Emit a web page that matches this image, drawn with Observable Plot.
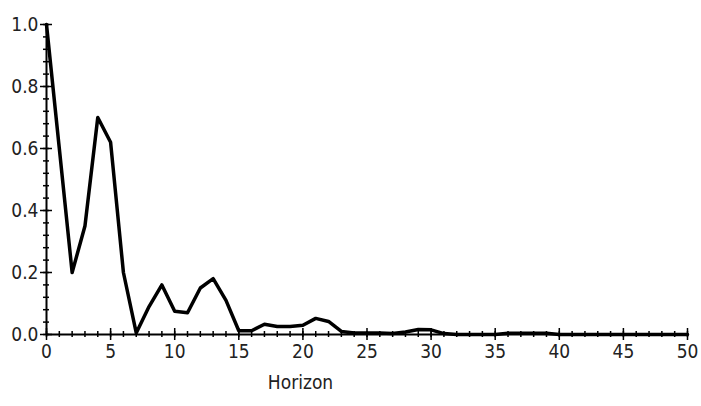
<!DOCTYPE html>
<html>
<head>
<meta charset="utf-8">
<script src="https://cdn.jsdelivr.net/npm/d3@7"></script>
<script src="https://cdn.jsdelivr.net/npm/@observablehq/plot@0.6"></script>
<style>
  html, body { margin: 0; padding: 0; background: #fff; }
  svg { display: block; }
</style>
</head>
<body>
<div id="chart"></div>
<script>
const horizon = d3.range(0, 51);
const values = [
  1.00, 0.60, 0.20, 0.35, 0.70, 0.62, 0.20, 0.005, 0.09, 0.16,
  0.075, 0.07, 0.15, 0.18, 0.11, 0.012, 0.012, 0.033, 0.026, 0.026,
  0.03, 0.052, 0.042, 0.01, 0.005, 0.005, 0.005, 0.003, 0.008, 0.016,
  0.015, 0.003, 0, 0, 0, 0, 0.004, 0.004, 0.004, 0.004,
  0, 0, 0, 0, 0, 0, 0, 0, 0, 0, 0
];
const xMajor = [0, 5, 10, 15, 20, 25, 30, 35, 40, 45, 50];
const xMinor = d3.range(0, 51);
const yMajor = [0, 0.2, 0.4, 0.6, 0.8, 1.0];
const yMinor = d3.range(0, 26).map(i => i * 0.04);
const xLabel = "Horizon";

const data = horizon.map((h, i) => ({h, v: values[i]}));

const W = 701, H = 406;
const mL = 46, mR = 14, mT = 24, mB = 72;
const pxX = 50 / (W - mL - mR);   // data units per pixel in x
const pxY = 1.0 / (H - mT - mB);  // data units per pixel in y

const font = "'DejaVu Sans Condensed', 'Liberation Sans Narrow', 'Arial Narrow', sans-serif";

const chart = Plot.plot({
  width: W,
  height: H,
  marginLeft: mL,
  marginRight: mR,
  marginTop: mT,
  marginBottom: mB,
  style: {fontFamily: font, fontSize: "19px", color: "#222", background: "#fff", overflow: "visible"},
  x: {domain: [0, 50], axis: null},
  y: {domain: [0, 1.0], axis: null},
  marks: [
    // axis lines
    Plot.ruleY([0], {stroke: "#000", strokeWidth: 2}),
    Plot.ruleX([0], {stroke: "#000", strokeWidth: 2}),
    // x ticks
    Plot.ruleX(xMinor, {x: d => d, y1: -3 * pxY, y2: 3 * pxY, stroke: "#000", strokeWidth: 1.5}),
    Plot.ruleX(xMajor, {x: d => d, y1: -6 * pxY, y2: 6 * pxY, stroke: "#000", strokeWidth: 1.5}),
    // y ticks
    Plot.ruleY(yMinor, {y: d => d, x1: -3 * pxX, x2: 3 * pxX, stroke: "#000", strokeWidth: 1.5}),
    Plot.ruleY(yMajor, {y: d => d, x1: -6 * pxX, x2: 6 * pxX, stroke: "#000", strokeWidth: 1.5}),
    // tick labels
    Plot.axisX({ticks: xMajor, tickSize: 0, tickPadding: 10, tickFormat: d => String(d), label: null,
      fontSize: 19, style: {letterSpacing: "3px"}}),
    Plot.axisY({ticks: yMajor, tickSize: 0, tickPadding: 8, tickFormat: d3.format(".1f"), label: null,
      fontSize: 19, style: {letterSpacing: "1px"}}),
    // series
    Plot.line(data, {x: "h", y: "v", stroke: "#000", strokeWidth: 3.5, strokeLinejoin: "round"}),
    // axis title
    Plot.text([xLabel], {text: d => d, frameAnchor: "bottom", dx: 300 - (mL + (W - mR)) / 2, dy: 54,
      fontSize: 19, fill: "#222"})
  ]
});
document.getElementById("chart").appendChild(chart);
</script>
</body>
</html>
